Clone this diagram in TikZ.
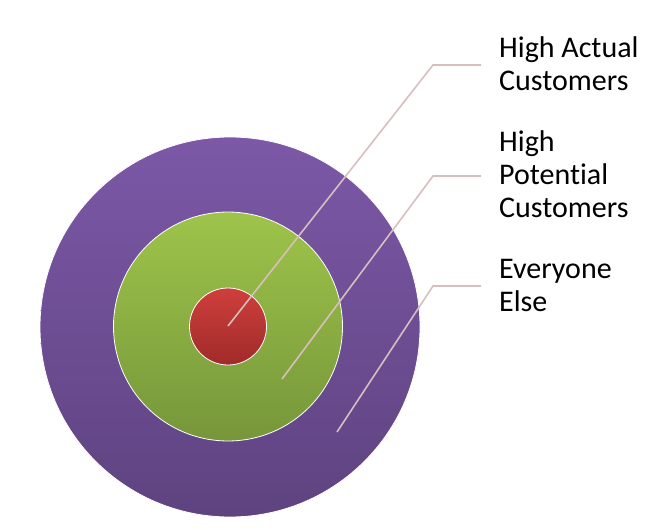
\documentclass[tikz,border=0pt]{standalone}
\usepackage{fontspec}
\setmainfont[Ligatures=NoCommon]{Carlito}
\usepackage{tikz}
\definecolor{ringtop}{RGB}{124,88,167}
\definecolor{ringbot}{RGB}{94,67,128}
\definecolor{midtop}{RGB}{158,196,74}
\definecolor{midbot}{RGB}{118,150,58}
\definecolor{coretop}{RGB}{206,63,60}
\definecolor{corebot}{RGB}{160,43,41}
\definecolor{leader}{RGB}{216,190,190}
\tikzset{
  ring/.style={circle, draw=white, line width=0.8pt, inner sep=0pt},
  leadline/.style={draw=leader, line width=1.6pt},
  tag/.style={anchor=base west, align=left, inner sep=0pt,
    font=\fontsize{30}{33}\selectfont}
}

\begin{document}
\begin{tikzpicture}[x=1pt, y=-1pt]
    \useasboundingbox (0,0) rectangle (656,530);
    % target rings
    \node[ring, minimum size=380pt, top color=ringtop, bottom color=ringbot] (outer) at (230,327) {};
    \node[ring, minimum size=229pt, top color=midtop, bottom color=midbot] (middle) at (228,326.5) {};
    \node[ring, minimum size=77pt, top color=coretop, bottom color=corebot] (core) at (228,326.5) {};
    % labels (base = last line)
    \node[tag] (actual) at (499,90) {High Actual\\Customers};
    \node[tag] (potential) at (499,217) {High\\Potential\\Customers};
    \node[tag] (rest) at (499,311) {Everyone\\Else};
    % leader lines
    \coordinate (coretip) at (228,326);
    \coordinate (midtip) at (282,379);
    \coordinate (outtip) at (337,432);
    \coordinate (bend1) at (433,65);
    \coordinate (bend2) at (433,176);
    \coordinate (bend3) at (433,286);
    \coordinate (end1) at (481,65);
    \coordinate (end2) at (481,176);
    \coordinate (end3) at (481,286);
    \draw[leadline] (coretip) -- (bend1) -- (end1);
    \draw[leadline] (midtip) -- (bend2) -- (end2);
    \draw[leadline] (outtip) -- (bend3) -- (end3);
\end{tikzpicture}
\end{document}
